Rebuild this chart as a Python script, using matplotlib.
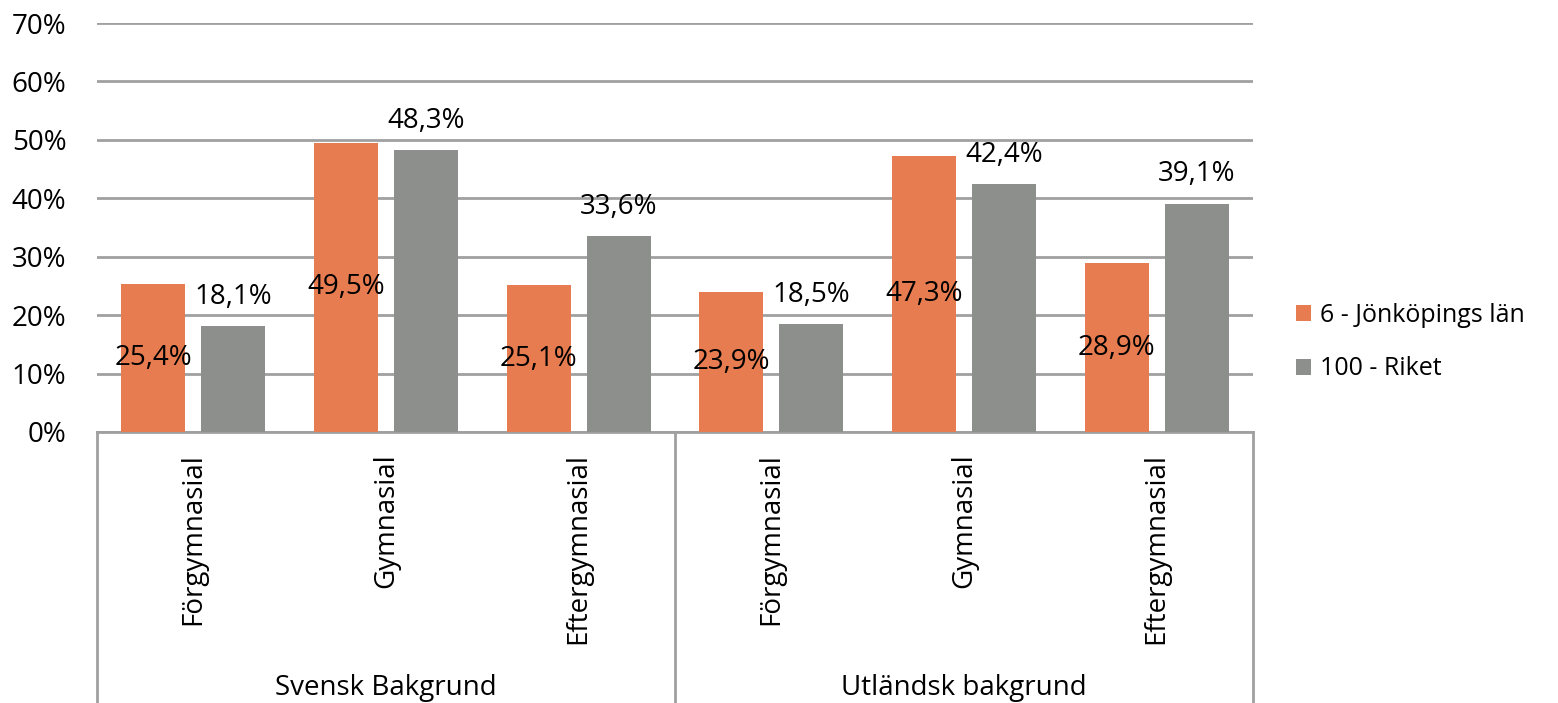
import numpy as np
import matplotlib.pyplot as plt
import matplotlib.transforms as mtransforms

plt.rcParams['font.family'] = ['Open Sans', 'DejaVu Sans']

# data
groups = ['Svensk Bakgrund', 'Utländsk bakgrund']
categories = ['Förgymnasial', 'Gymnasial', 'Eftergymnasial',
              'Förgymnasial', 'Gymnasial', 'Eftergymnasial']
series_names = ['6 - Jönköpings län', '100 - Riket']
jonkoping = [25.4, 49.5, 25.1, 23.9, 47.3, 28.9]
riket = [18.1, 48.3, 33.6, 18.5, 42.4, 39.1]

orange = '#E67C4F'
grey = '#8C8F8C'
linec = '#A0A0A0'
fs = 20

fig = plt.figure(figsize=(15.58, 7.03), dpi=100)
ax = fig.add_axes([97/1558, 1-432/703, (1253-97)/1558, (432-23)/703])

x = np.arange(len(categories))
w = 0.332
off = 0.2075
b1 = ax.bar(x - off, jonkoping, w, color=orange, label=series_names[0], zorder=3)
b2 = ax.bar(x + off, riket, w, color=grey, label=series_names[1], zorder=3)

ax.set_xlim(-0.5, len(categories) - 0.5)
ax.set_ylim(0, 70)
ax.set_yticks(np.arange(0, 71, 10))
ax.set_yticklabels([f'{v}%' for v in range(0, 71, 10)], fontsize=fs)
ax.tick_params(axis='y', length=0, pad=22)
ax.set_xticks([])
ax.grid(axis='y', color=linec, linewidth=2, zorder=0)
for s in ['top', 'right', 'left']:
    ax.spines[s].set_visible(False)
ax.spines['bottom'].set_color(linec)
ax.spines['bottom'].set_linewidth(2)

# value labels
for xi, v in zip(x, jonkoping):
    ax.text(xi - off, v / 2, f'{v:.1f}%'.replace('.', ','), ha='center', va='center',
            fontsize=fs, zorder=4)
for xi, v in zip(x, riket):
    ax.annotate(f'{v:.1f}%'.replace('.', ','), (xi + off, v), xytext=(0, 21),
                textcoords='offset points', ha='center', va='center', fontsize=fs, zorder=4)

# category axis with grouping
trans = mtransforms.blended_transform_factory(ax.transData, ax.transAxes)
for xi, c in zip(x, categories):
    ax.text(xi, -0.052, c, rotation=90, ha='center', va='top', fontsize=fs, transform=trans)
for xv in [-0.5, 2.5, 5.5]:
    ax.plot([xv, xv], [0, -0.7], color=linec, lw=2, transform=trans, clip_on=False)
for gi, g in enumerate(groups):
    ax.text(gi * 3 + 1, -0.626, g, ha='center', va='center', fontsize=fs, transform=trans)

fig.legend(handles=[b1, b2], loc='center left', bbox_to_anchor=(1288/1558, 1-342/703),
           frameon=False, fontsize=18, handlelength=0.6, handleheight=0.6,
           handletextpad=0.4, labelspacing=1.15, borderaxespad=0, borderpad=0.3)

fig.savefig('out.png', dpi=100)
